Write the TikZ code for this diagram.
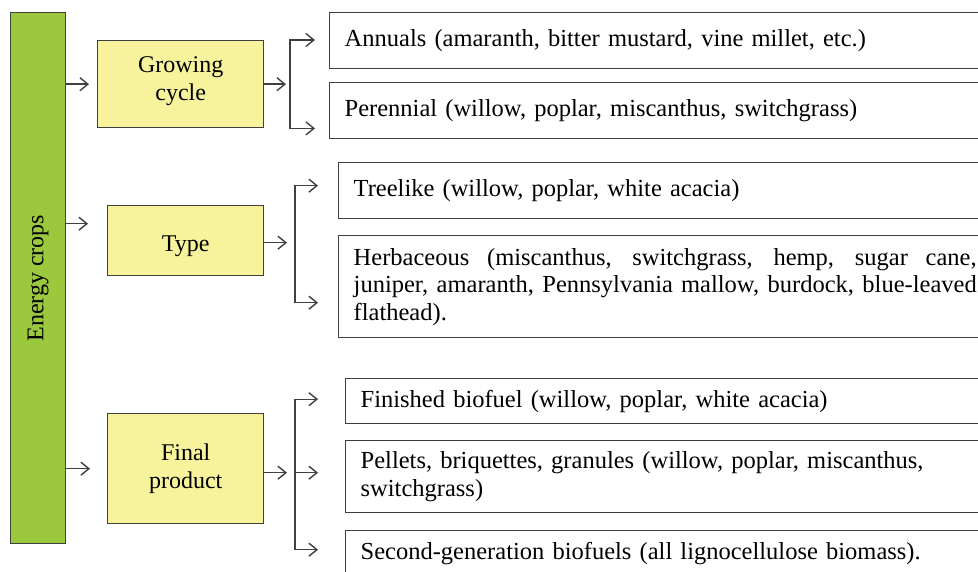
\documentclass[tikz,border=0pt]{standalone}
\usepackage{fontspec}
\setmainfont{Liberation Serif}
\usepackage{xcolor}
\usetikzlibrary{arrows.meta, positioning}
\definecolor{cropgreen}{HTML}{9BC83C}
\definecolor{boxyellow}{HTML}{F7F39C}
\definecolor{linegray}{HTML}{404040}
\tikzset{
		cropbar/.style={draw=linegray, fill=cropgreen, anchor=north west, minimum width=55pt, minimum height=531pt, inner sep=0pt},
		groupbox/.style={draw=linegray, fill=boxyellow, anchor=north west, align=center, inner sep=0pt, font=\fontsize{24}{28}\selectfont},
		itembox/.style={draw=linegray, anchor=north west, inner xsep=15pt, inner ysep=0pt, text width=623pt, align=left, font=\fontsize{24.5}{27.5}\selectfont},
		link/.style={->, draw=linegray}
	}

\begin{document}
\begin{tikzpicture}[x=1pt, y=-1pt, >={Straight Barb[length=8pt,width=13pt]}, line width=1.4pt]
		\useasboundingbox (0,0) rectangle (978,572);

		\node[cropbar, label={[rotate=90, font=\fontsize{24}{28}\selectfont]center:Energy crops}] (crops) at (10,12) {};

		\node[groupbox, minimum width=166pt, minimum height=87pt, text depth=12pt] (grow) at (97,40) {Growing\\cycle};
		\node[groupbox, minimum width=156pt, minimum height=70pt, text height=26pt] (type) at (107,205) {Type};
		\node[groupbox, minimum width=156pt, minimum height=110pt] (final) at (107,413) {Final\\product};

		\node[itembox, minimum height=56pt]  (annuals)   at (329,12)  {Annuals (amaranth, bitter mustard, vine millet, etc.)};
		\node[itembox, minimum height=56pt]  (perennial) at (329,82)  {Perennial (willow, poplar, miscanthus, switchgrass)};
		\node[itembox, minimum height=56pt]  (tree)      at (338,162) {Treelike (willow, poplar, white acacia)};
		\node[itembox, minimum height=102pt, align=justify] (herb) at (338,235) {Herbaceous (miscanthus, switchgrass, hemp, sugar cane,\linebreak juniper, amaranth, Pennsylvania mallow, burdock, blue-leaved\linebreak flathead).};
		\node[itembox, minimum height=45pt]  (finished)  at (345,378) {Finished biofuel (willow, poplar, white acacia)};
		\node[itembox, minimum height=72pt]  (pellets)   at (345,440) {Pellets, briquettes, granules (willow, poplar, miscanthus, switchgrass)};
		\node[itembox, minimum height=46pt]  (second)    at (345,530) {Second-generation biofuels (all lignocellulose biomass).};

		% bracket columns
		\coordinate (gbr) at (290,0);
		\coordinate (tbr) at (295,0);
		\coordinate (fbr) at (295,0);

		% from the bar
		\draw[link, shorten >=8pt]  (crops.east |- grow.west) -- (grow.west);
		\draw[link, shorten >=19pt] ([yshift=17pt]crops.east |- type.west) -- ([yshift=17pt]type.west);
		\draw[link, shorten >=17pt] (crops.east |- final.west) -- (final.west);

		% growing cycle
		\draw[link, shorten >=4pt] (grow.east) -- (gbr |- grow.east);
		\draw[link, <->, shorten <=14pt, shorten >=14pt] (annuals.west |- grow.north) -| (gbr |- grow.south) -- (perennial.west |- grow.south);

		% type
		\draw[link, shorten >=8pt] ([yshift=-2pt]type.east) -- ([yshift=-2pt]tbr |- type.east);
		\draw[link, <->, shorten <=20pt, shorten >=20pt] ([yshift=5pt]tree.west) -| ([yshift=-16pt]tbr |- herb.west) -- ([yshift=-16pt]herb.west);

		% final product
		\draw[link, shorten >=8pt] ([yshift=-4pt]final.east) -- ([yshift=-4pt]fbr |- final.east);
		\draw[link, <->, shorten <=27pt, shorten >=27pt] ([yshift=2pt]finished.west) -| ([yshift=4pt]fbr |- second.west) -- ([yshift=4pt]second.west);
		\draw[link, shorten >=27pt] ([yshift=-4pt]fbr |- final.east) -- ([yshift=-4pt]final.east -| pellets.west);

	\end{tikzpicture}
\end{document}
